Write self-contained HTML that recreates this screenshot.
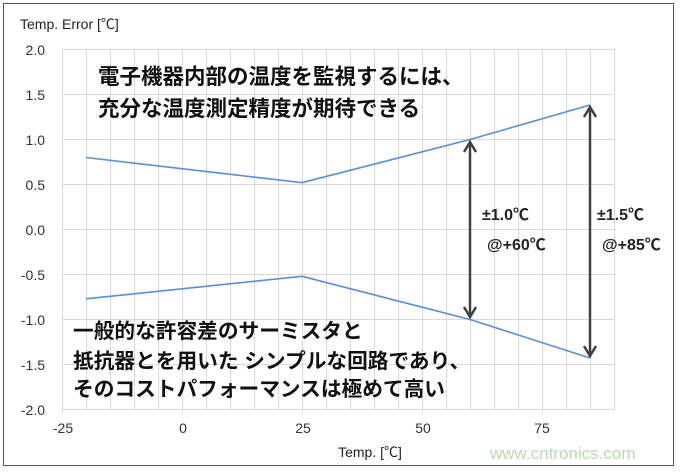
<!DOCTYPE html>
<html><head><meta charset="utf-8"><style>
body{margin:0;background:#fff}
svg text{font-family:"Liberation Sans","Noto Sans CJK JP",sans-serif}
</style></head><body>
<svg width="680" height="470" viewBox="0 0 680 470" xmlns="http://www.w3.org/2000/svg">
<rect x="3.5" y="3.5" width="670" height="462" fill="#fff" stroke="#555" stroke-width="1"/>
<g stroke="#d9d9d9" stroke-width="1">
<line x1="62" y1="49.5" x2="614" y2="49.5"/><line x1="62" y1="94.5" x2="614" y2="94.5"/>
<line x1="62" y1="139.5" x2="614" y2="139.5"/><line x1="62" y1="184.5" x2="614" y2="184.5"/>
<line x1="62" y1="229.5" x2="614" y2="229.5"/><line x1="62" y1="274.5" x2="614" y2="274.5"/>
<line x1="62" y1="319.5" x2="614" y2="319.5"/><line x1="62" y1="364.5" x2="614" y2="364.5"/>
<line x1="62" y1="409.5" x2="614" y2="409.5"/>
<line x1="62.5" y1="49" x2="62.5" y2="413"/><line x1="86.5" y1="49" x2="86.5" y2="410"/><line x1="110.5" y1="49" x2="110.5" y2="410"/><line x1="134.5" y1="49" x2="134.5" y2="410"/><line x1="158.5" y1="49" x2="158.5" y2="410"/>
<line x1="182.5" y1="49" x2="182.5" y2="413"/><line x1="206.5" y1="49" x2="206.5" y2="410"/><line x1="230.5" y1="49" x2="230.5" y2="410"/><line x1="254.5" y1="49" x2="254.5" y2="410"/><line x1="278.5" y1="49" x2="278.5" y2="410"/>
<line x1="302.5" y1="49" x2="302.5" y2="413"/><line x1="326.5" y1="49" x2="326.5" y2="410"/><line x1="350.5" y1="49" x2="350.5" y2="410"/><line x1="374.5" y1="49" x2="374.5" y2="410"/><line x1="398.5" y1="49" x2="398.5" y2="410"/>
<line x1="422.5" y1="49" x2="422.5" y2="413"/><line x1="446.5" y1="49" x2="446.5" y2="410"/><line x1="470.5" y1="49" x2="470.5" y2="410"/><line x1="494.5" y1="49" x2="494.5" y2="410"/><line x1="518.5" y1="49" x2="518.5" y2="410"/>
<line x1="542.5" y1="49" x2="542.5" y2="413"/><line x1="566.5" y1="49" x2="566.5" y2="410"/><line x1="590.5" y1="49" x2="590.5" y2="410"/><line x1="614.5" y1="49" x2="614.5" y2="410"/>
</g>
<g font-size="14" fill="#333" text-anchor="end">
<text x="45" y="55">2.0</text><text x="45" y="100">1.5</text><text x="45" y="145">1.0</text><text x="45" y="190">0.5</text><text x="45" y="235">0.0</text><text x="45" y="280">-0.5</text><text x="45" y="325">-1.0</text><text x="45" y="370">-1.5</text><text x="45" y="415">-2.0</text>
</g>
<g font-size="14" fill="#333" text-anchor="middle">
<text x="63" y="433">-25</text><text x="183" y="433">0</text><text x="303" y="433">25</text><text x="423" y="433">50</text><text x="542" y="433">75</text>
</g>
<text x="20" y="29" font-size="14" fill="#222">Temp.  Error [℃]</text>
<text x="370" y="457" font-size="14" fill="#222" text-anchor="middle">Temp. [℃]</text>
<text x="490" y="459" font-size="17" fill="#b8dcae">www.cntronics.com</text>
<g fill="none" stroke="#5b8fd6" stroke-width="1.6">
<polyline points="86,157.5 302,182.7 470,139.5 590,105"/>
<polyline points="86,298.8 302,276.3 470,319.5 590,358"/>
</g>
<g stroke="#404040" stroke-width="2.5" fill="none">
<line x1="470" y1="144" x2="470" y2="315"/>
<polyline points="464,152 470,142 476,152"/><polyline points="464,307 470,317 476,307"/>
<line x1="590" y1="109" x2="590" y2="354"/>
<polyline points="584,117 590,107 596,117"/><polyline points="584,346 590,356 596,346"/>
</g>
<g font-size="16" font-weight="bold" fill="#222">
<text x="482" y="220">±1.0℃</text><text x="487" y="250">@+60℃</text>
<text x="597" y="220">±1.5℃</text><text x="602" y="250">@+85℃</text>
</g>
<g font-size="21.5" font-weight="bold" fill="#111">
<text x="98" y="84">電子機器内部の温度を監視するには、</text>
<text x="98" y="116">充分な温度測定精度が期待できる</text>
</g>
<g font-size="20.7" font-weight="bold" fill="#111">
<text x="73" y="338">一般的な許容差のサーミスタと</text>
<text x="73" y="368">抵抗器とを用いた シンプルな回路であり、</text>
<text x="73" y="396">そのコストパフォーマンスは極めて高い</text>
</g>
</svg>
</body></html>
